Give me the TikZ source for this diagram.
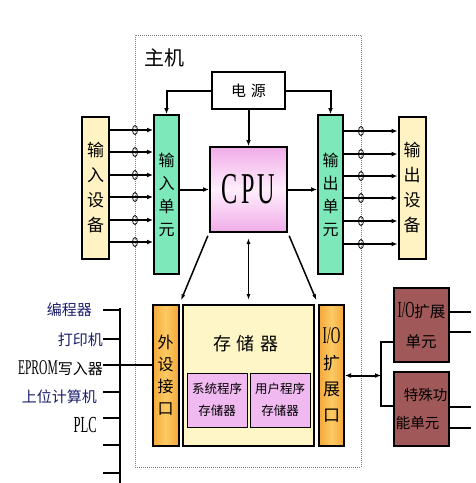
\documentclass[tikz,border=0pt]{standalone}
\usepackage{fontspec}
\setmainfont{Liberation Serif}
\newfontfamily\cjk{Noto Sans CJK SC}
\newfontfamily\narrow[FakeStretch=0.55]{Liberation Serif}
\usetikzlibrary{arrows.meta}

\definecolor{devyellow}{RGB}{255,243,196}
\definecolor{unitgreen}{RGB}{125,232,185}
\definecolor{cpupink}{RGB}{240,172,232}
\definecolor{cpulight}{RGB}{255,238,252}
\definecolor{portorange}{RGB}{244,168,56}
\definecolor{portlight}{RGB}{253,202,100}
\definecolor{memyellow}{RGB}{255,246,200}
\definecolor{pinkmem}{RGB}{240,185,240}
\definecolor{extbrown}{RGB}{160,88,88}
\definecolor{tagblue}{RGB}{30,30,110}

\begin{document}
\begin{tikzpicture}[x=1pt,y=-1pt,
   box/.style={draw,line width=2pt,inner sep=0pt,align=center,font=\cjk\fontsize{16}{23}\selectfont},
   devbox/.style={box,fill=devyellow,minimum width=27pt,minimum height=142pt,font=\cjk\fontsize{17}{25}\selectfont},
   unitbox/.style={box,fill=unitgreen,minimum width=25pt,minimum height=159pt},
   portbox/.style={box,left color=portorange,right color=portorange,middle color=portlight,minimum width=26pt,minimum height=141pt},
   membox/.style={box,line width=1pt,fill=pinkmem,minimum width=60pt,minimum height=54pt,font=\cjk\fontsize{12.5}{22}\selectfont},
   extbox/.style={box,fill=extbrown,minimum width=55pt,minimum height=74pt,align=left,font=\cjk\fontsize{15.5}{30}\selectfont},
   wire/.style={line width=2pt},
   sig/.style={wire,-{Latex[length=6pt,width=5pt]}},
   link/.style={line width=1.5pt,-{Latex[length=6pt,width=4pt]}},
   dlink/.style={line width=1.5pt,{Latex[length=6pt,width=4pt]}-{Latex[length=6pt,width=4pt]}},
   term/.style={line width=0.8pt},
   tag/.style={anchor=east,inner sep=0pt,text=tagblue,font=\cjk\fontsize{15}{15}\selectfont}]

   \useasboundingbox (0,0) rectangle (476,483);

   \draw [gray,densely dotted,line width=1pt] (135,35) rectangle (361,467);
   \node (Main) at (164,58) [font=\cjk\fontsize{20}{20}\selectfont] {主机};

   \node (Power) at (248.5,90.5) [box,fill=white,minimum width=73pt,minimum height=37pt,font=\cjk\fontsize{15}{15}\selectfont] {电\hspace{5pt}源};
   \node (CPU) at (248.5,189.5) [box,top color=cpupink,bottom color=cpupink,middle color=cpulight,minimum width=77pt,minimum height=85pt,font=\narrow\fontsize{44}{44}\selectfont] {C\hspace{3pt}P\hspace{3pt}U};

   \node (InDev) at (95.5,188) [devbox] {输\\入\\设\\备};
   \node (InUnit) at (166.5,194.5) [unitbox] {输\\入\\单\\元};
   \node (OutUnit) at (330.5,194.5) [unitbox] {输\\出\\单\\元};
   \node (OutDev) at (412,188) [devbox] {输\\出\\设\\备};

   \node (PeriphPort) at (165.5,375.5) [portbox,font=\cjk\fontsize{16}{22}\selectfont] {外\\设\\接\\口};
   \node (Memory) at (248.5,375.5) [box,fill=memyellow,minimum width=131pt,minimum height=141pt] {};
   \node (MemTitle) at (246,344) [font=\cjk\fontsize{18}{18}\selectfont] {存\hspace{6pt}储\hspace{6pt}器};
   \node (SysMem) at (217,400) [membox] {系统程序\\存储器};
   \node (UserMem) at (280,400) [membox] {用户程序\\存储器};
   \node (IOPort) at (331.5,375.5) [portbox,minimum width=25pt,font=\cjk\fontsize{17}{26}\selectfont] {{\narrow\fontsize{24}{24}\selectfont I/O}\\扩\\展\\口};

   \node (IOExt) at (421.5,325) [extbox] {{\narrow\fontsize{23}{23}\selectfont I/O}扩展\\\hspace*{8pt}单元};
   \node (Special) at (421.5,409) [extbox,font=\cjk\fontsize{14.5}{28}\selectfont] {\hspace*{8pt}特殊功\\能单元};

   \node (Prog) at (92,310) [tag] {编程器};
   \node (Printer) at (103,340) [tag] {打印机};
   \node (Eprom) at (103,368) [tag,text=black] {{\narrow\fontsize{21}{21}\selectfont EPROM}写入器};
   \node (HostPC) at (97,397) [tag] {上位计算机};
   \node (Plc) at (97,425) [tag,text=black,font=\narrow\fontsize{23}{23}\selectfont] {PLC};

   \draw [sig] (Power.west) -| (InUnit.north);
   \draw [sig] (Power.east) -| (OutUnit.north);
   \draw [sig] (Power.south) -- (CPU.north);

   \draw [sig] (InUnit.east |- CPU.west) -- (CPU.west);
   \draw [sig] (CPU.east) -- (OutUnit.west |- CPU.east);

   \draw [link,shorten <=3pt,shorten >=4pt] (CPU.south west) -- (PeriphPort.north east);
   \draw [link,shorten <=3pt,shorten >=4pt] (CPU.south east) -- (IOPort.north west);
   \draw [dlink,shorten <=5pt,shorten >=4pt] (CPU.south) -- (Memory.north);

   \draw [sig] (InDev.east |- 0,130) -- (InUnit.west |- 0,130);
   \draw [sig] (InDev.east |- 0,152) -- (InUnit.west |- 0,152);
   \draw [sig] (InDev.east |- 0,175) -- (InUnit.west |- 0,175);
   \draw [sig] (InDev.east |- 0,197) -- (InUnit.west |- 0,197);
   \draw [sig] (InDev.east |- 0,220) -- (InUnit.west |- 0,220);
   \draw [sig] (InDev.east |- 0,242) -- (InUnit.west |- 0,242);

   \draw [sig] (OutUnit.east |- 0,131) -- (OutDev.west |- 0,131);
   \draw [sig] (OutUnit.east |- 0,154) -- (OutDev.west |- 0,154);
   \draw [sig] (OutUnit.east |- 0,176) -- (OutDev.west |- 0,176);
   \draw [sig] (OutUnit.east |- 0,198) -- (OutDev.west |- 0,198);
   \draw [sig] (OutUnit.east |- 0,221) -- (OutDev.west |- 0,221);
   \draw [sig] (OutUnit.east |- 0,244) -- (OutDev.west |- 0,244);

   \draw [term] (135,130) ellipse (2.5 and 4.5);
   \draw [term] (135,152) ellipse (2.5 and 4.5);
   \draw [term] (135,175) ellipse (2.5 and 4.5);
   \draw [term] (135,197) ellipse (2.5 and 4.5);
   \draw [term] (135,220) ellipse (2.5 and 4.5);
   \draw [term] (135,242) ellipse (2.5 and 4.5);

   \draw [term] (361,131) ellipse (2.5 and 4.5);
   \draw [term] (361,154) ellipse (2.5 and 4.5);
   \draw [term] (361,176) ellipse (2.5 and 4.5);
   \draw [term] (361,198) ellipse (2.5 and 4.5);
   \draw [term] (361,221) ellipse (2.5 and 4.5);
   \draw [term] (361,244) ellipse (2.5 and 4.5);

   \coordinate (Fork) at (381,375.5);
   \draw [wire,{Latex[length=6pt,width=5pt]}-{Latex[length=6pt,width=5pt]}] (IOPort.east) -- (Fork);
   \draw [wire] (IOExt.west |- 0,342) -| (Fork) |- (Special.west |- 0,406);

   \draw [wire] (IOExt.east |- 0,312) -- ++(21,0);
   \draw [wire] (IOExt.east |- 0,332) -- ++(21,0);
   \draw [wire] (Special.east |- 0,407) -- ++(21,0);
   \draw [wire] (Special.east |- 0,428) -- ++(21,0);

   \coordinate (BusTop) at (120,308);
   \coordinate (BusEnd) at (120,483);
   \draw [wire,line width=2.5pt] (BusTop) -- (BusEnd);
   \draw [wire] (BusTop |- 0,310) -- ++(-17,0);
   \draw [wire] (BusTop |- 0,339) -- ++(-17,0);
   \draw [wire] (BusTop |- 0,365) ++(-17,0) -- (PeriphPort.west |- 0,365);
   \draw [wire] (BusTop |- 0,392) -- ++(-17,0);
   \draw [wire] (BusTop |- 0,418) -- ++(-17,0);
   \draw [wire] (BusTop |- 0,445) -- ++(-17,0);
   \draw [wire] (BusTop |- 0,473) -- ++(-17,0);

\end{tikzpicture}
\end{document}
